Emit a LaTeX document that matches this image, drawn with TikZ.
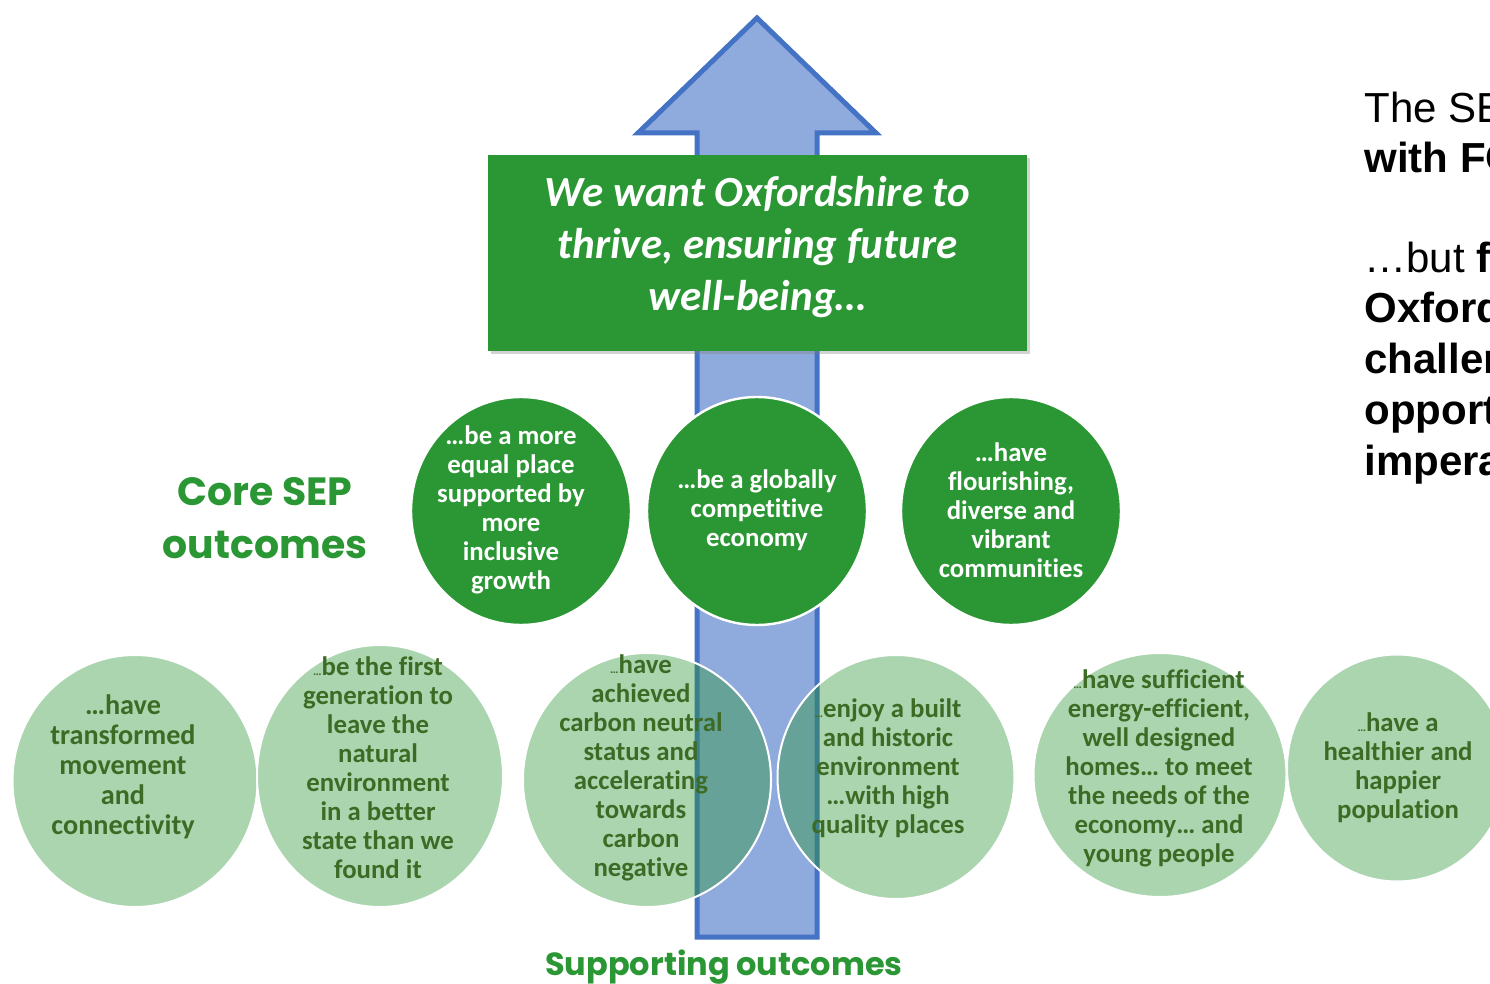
\documentclass[tikz,border=0pt]{standalone}
\usepackage{fontspec}
\setmainfont{Carlito}[Ligatures=NoCommon]
\newfontfamily\arialfont{Liberation Sans}
\newfontfamily\gothicfont{Poppins}
\usetikzlibrary{shapes.geometric,shadows}
\definecolor{sepgreen}{RGB}{43,151,52}
\definecolor{olivegreen}{RGB}{61,107,37}
\definecolor{arrowblue}{RGB}{143,170,220}
\definecolor{arrowedge}{RGB}{68,114,196}
\newcommand{\tinydots}{{\fontsize{6}{6}\selectfont\ldots}}
\begin{document}
\begin{tikzpicture}[x=0.5pt, y=-0.5pt,
    core/.style={ellipse, draw=white, line width=1.2pt, fill=sepgreen, minimum width=110pt, minimum height=114pt, inner sep=0pt},
    coretext/.style={text=white, align=center, inner sep=0pt, font=\bfseries\fontsize{13.4}{14.5}\selectfont},
    support/.style={ellipse, draw=white, line width=1pt, fill=sepgreen, fill opacity=0.4, inner sep=0pt},
    supptext/.style={text=olivegreen, align=center, inner sep=0pt, font=\bfseries\fontsize{13.4}{14.5}\selectfont},
    heading/.style={text=sepgreen, align=center, inner sep=0pt},
    sidetext/.style={anchor=base west, inner sep=0pt, font=\arialfont\fontsize{21}{25}\selectfont}]
    \useasboundingbox (0,0) rectangle (1490,984); % 1490 x 984
    % arrow
    \draw[line width=2.5pt, draw=arrowedge, fill=arrowblue, drop shadow={opacity=0.25, shadow xshift=1pt, shadow yshift=-1pt}]
        (757,18) -- (638,133) -- (697,133) -- (697,937) -- (817,937) -- (817,133) -- (876,133) -- cycle;
    % vision box
    \node[fill=sepgreen, minimum width=269.5pt, minimum height=98pt, inner sep=0pt,
        drop shadow={opacity=0.35, shadow xshift=1.5pt, shadow yshift=-1.5pt}] (vision) at (757.5,253) {};
    \node[text=white, align=center, font=\bfseries\itshape\fontsize{21.5}{26}\selectfont] (visiontext) at (757.5,247)
        {We want Oxfordshire to\\ thrive, ensuring future\\ well-being\ldots};
    % core outcomes
    \node[core] (equal) at (521,511) {};
    \node[core] (economy) at (757,511) {};
    \node[core] (communities) at (1011,511) {};
    \node[coretext] (equaltext) at (511,510) {\ldots be a more\\ equal place\\ supported by\\ more\\ inclusive\\ growth};
    \node[coretext] (economytext) at (757,510) {\ldots be a globally\\ competitive\\ economy};
    \node[coretext] (communitiestext) at (1011,510) {\ldots have\\ flourishing,\\ diverse and\\ vibrant\\ communities};
    \node[heading, font=\gothicfont\bfseries\fontsize{19.7}{26.5}\selectfont] (corelabel) at (265,518) {Core SEP\\ outcomes};
    % supporting outcomes
    \node[support, minimum width=122.5pt, minimum height=126pt] (movement) at (135,781) {};
    \node[support, minimum width=123pt, minimum height=131pt] (nature) at (380,776) {};
    \node[support, minimum width=124pt, minimum height=127pt] (carbon) at (647,780) {};
    \node[support, minimum width=118.5pt, minimum height=122pt] (places) at (896,777) {};
    \node[support, minimum width=126.5pt, minimum height=122pt] (homes) at (1160,775) {};
    \node[support, minimum width=110pt, minimum height=113.5pt] (health) at (1397,768) {};
    \node[supptext, font=\bfseries\fontsize{14.1}{15}\selectfont] (movementtext) at (123,767)
        {\ldots have\\ transformed\\ movement\\ and\\ connectivity};
    \node[supptext] (naturetext) at (378,768)
        {\tinydots be the first\\ generation to\\ leave the\\ natural\\ environment\\ in a better\\ state than we\\ found it};
    \node[supptext] (carbontext) at (641,768)
        {\tinydots have\\ achieved\\ carbon neutral\\ status and\\ accelerating\\ towards\\ carbon\\ negative};
    \node[supptext] (placestext) at (888,768)
        {\tinydots enjoy a built\\ and historic\\ environment\\ \ldots with high\\ quality places};
    \node[supptext] (homestext) at (1159,768)
        {\tinydots have sufficient\\ energy-efficient,\\ well designed\\ homes\ldots\ to meet\\ the needs of the\\ economy\ldots\ and\\ young people};
    \node[supptext] (healthtext) at (1398,768)
        {\tinydots have a\\ healthier and\\ happier\\ population};
    \node[heading, font=\gothicfont\bfseries\fontsize{16}{20}\selectfont] (supportlabel) at (724,967) {Supporting outcomes};
    % text on the right, cut off by the page edge
    \node[sidetext] (line1) at (1364,123) {The SE};
    \node[sidetext] (line2) at (1364,173) {\bfseries with FO};
    \node[sidetext] (line3) at (1364,273) {\ldots but \bfseries f};
    \node[sidetext] (line4) at (1364,323) {\bfseries Oxford};
    \node[sidetext] (line5) at (1364,374) {\bfseries challen};
    \node[sidetext] (line6) at (1364,424) {\bfseries opport};
    \node[sidetext] (line7) at (1364,475) {\bfseries impera};
\end{tikzpicture}
\end{document}
